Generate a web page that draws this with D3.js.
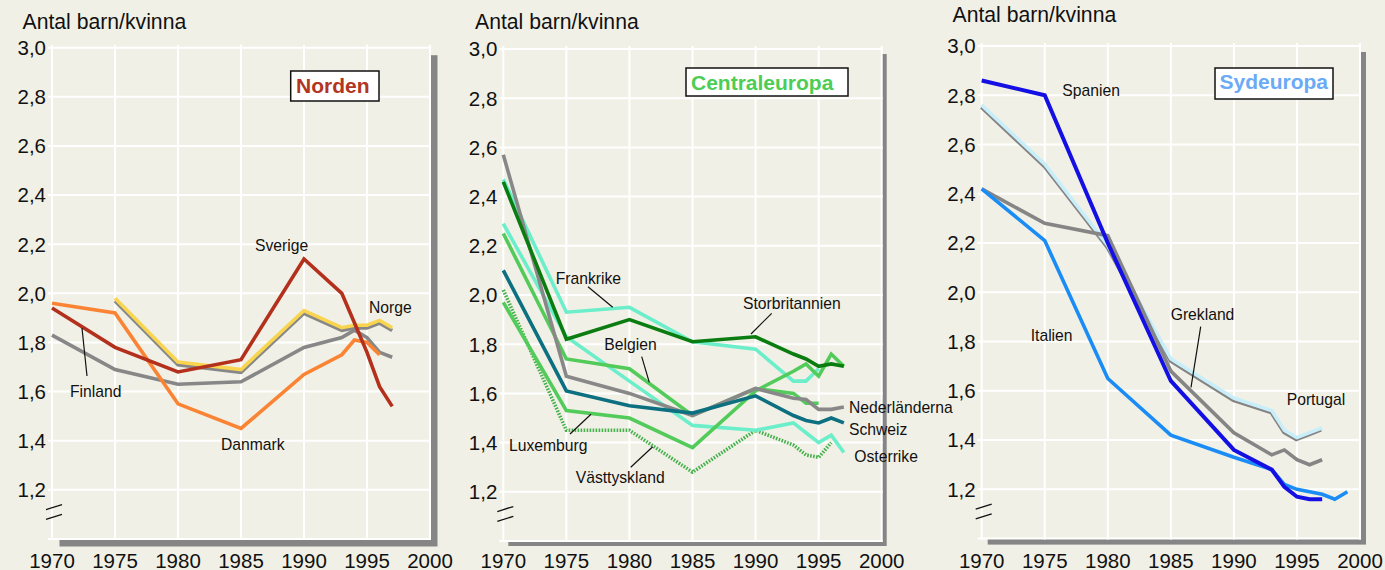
<!DOCTYPE html>
<html>
<head>
<meta charset="utf-8">
<script src="https://cdn.jsdelivr.net/npm/d3@7/dist/d3.min.js"></script>
<style>
  body { margin: 0; background: #f1f0e6; }
  svg { display: block; font-family: "Liberation Sans", Arial, Helvetica, sans-serif; }
</style>
</head>
<body>
<div id="chart"></div>
<script>
// --- data (total fertility rate, children per woman) ---
const xTicks = [1970, 1975, 1980, 1985, 1990, 1995, 2000];
const yTicks = [1.2, 1.4, 1.6, 1.8, 2.0, 2.2, 2.4, 2.6, 2.8, 3.0];
const yAxisTitle = "Antal barn/kvinna";
const regions = ["Norden", "Centraleuropa", "Sydeuropa"];

const years = [1970, 1975, 1980, 1985, 1990, 1993, 1994, 1995, 1996, 1997];
const yearsTo1996 = [1970, 1975, 1980, 1985, 1990, 1993, 1994, 1995, 1996];
const yearsTo1995 = [1970, 1975, 1980, 1985, 1990, 1993, 1994, 1995];
const yearsFrom1975 = [1975, 1980, 1985, 1990, 1993, 1994, 1995, 1996, 1997];
const yearsTo1999 = [1970, 1975, 1980, 1985, 1990, 1993, 1994, 1995, 1996, 1997, 1998, 1999];

// Norden
const finland = [1.83, 1.69, 1.63, 1.64, 1.78, 1.82, 1.85, 1.82, 1.76, 1.74];
const norge = [1.98, 1.72, 1.69, 1.93, 1.86, 1.87, 1.87, 1.89, 1.86];
const danmark = [1.96, 1.92, 1.55, 1.45, 1.67, 1.75, 1.81, 1.80, 1.75];
const sverige = [1.94, 1.78, 1.68, 1.73, 2.14, 2.00, 1.88, 1.76, 1.62, 1.54];

// Centraleuropa
const vasttyskland = [2.02, 1.45, 1.45, 1.28, 1.45, 1.39, 1.35, 1.34, 1.40];
const osterrike = [2.29, 1.83, 1.65, 1.47, 1.45, 1.48, 1.44, 1.40, 1.43, 1.36];
const frankrike = [2.47, 1.93, 1.95, 1.81, 1.78, 1.65, 1.65, 1.70];
const luxemburg = [1.97, 1.53, 1.50, 1.38, 1.61, 1.69, 1.72, 1.67, 1.76, 1.71];
const belgien = [2.25, 1.74, 1.70, 1.51, 1.62, 1.60, 1.56, 1.56];
const nederlanderna = [2.57, 1.67, 1.60, 1.51, 1.62, 1.58, 1.575, 1.535, 1.535, 1.545];
const schweiz = [2.10, 1.61, 1.55, 1.52, 1.59, 1.51, 1.49, 1.48, 1.50, 1.48];
const storbritannien = [2.46, 1.82, 1.90, 1.81, 1.83, 1.76, 1.74, 1.71, 1.72, 1.71];

// Sydeuropa
const portugal = [2.76, 2.52, 2.19, 1.73, 1.57, 1.52, 1.44, 1.41, 1.43, 1.45];
const grekland = [2.42, 2.28, 2.23, 1.68, 1.43, 1.34, 1.36, 1.32, 1.30, 1.32];
const italien = [2.42, 2.21, 1.65, 1.42, 1.33, 1.28, 1.22, 1.20, 1.19, 1.18, 1.16, 1.19];
const spanien = [2.86, 2.80, 2.20, 1.64, 1.36, 1.28, 1.21, 1.17, 1.16, 1.16];

// --- layout and styles ---
const W = 1385, H = 570;
const bg = "#f1f0e6";
const shadowCol = "#858585";

const panels = [
  {
    x0: 52, x1: 430, yt: 47.7, yb: 539, shadow: 7.5, titleX: 22.5, titleY: 29.3,
    box: {x: 290.7, y: 71, w: 88.3, h: 30, tx: 296, ty: 92.5, color: "#b3351f"},
    series: [
      {years: years, values: finland, color: "#878787"},
      {years: yearsFrom1975, values: norge, color: "#878787", width: 3.5, dy: 2.8},
      {years: yearsFrom1975, values: norge, color: "#f8d44f"},
      {years: yearsTo1996, values: danmark, color: "#fb8434"},
      {years: years, values: sverige, color: "#b3311c"}
    ],
    labels: [
      {t: "Sverige", x: 255, y: 250.7},
      {t: "Norge", x: 369, y: 312.7},
      {t: "Finland", x: 70, y: 396.7},
      {t: "Danmark", x: 221, y: 450}
    ],
    pointers: [[82, 328, 87, 376]]
  },
  {
    x0: 503.3, x1: 881.7, yt: 49, yb: 541, shadow: 5, titleX: 475, titleY: 29.3,
    box: {x: 686, y: 68, w: 162, h: 28, tx: 691, ty: 89.5, color: "#4ccd55"},
    series: [
      {years: yearsTo1996, values: vasttyskland, color: "#46b04c", dash: "1.6,1.4"},
      {years: years, values: osterrike, color: "#6beec9"},
      {years: yearsTo1995, values: frankrike, color: "#6beec9"},
      {years: years, values: luxemburg, color: "#52cb5a"},
      {years: yearsTo1995, values: belgien, color: "#52cb5a"},
      {years: years, values: nederlanderna, color: "#888888"},
      {years: years, values: schweiz, color: "#0d7080"},
      {years: years, values: storbritannien, color: "#0b7c10"}
    ],
    labels: [
      {t: "Frankrike", x: 555.7, y: 284},
      {t: "Storbritannien", x: 743, y: 309.3},
      {t: "Belgien", x: 604.3, y: 350},
      {t: "Luxemburg", x: 509, y: 451},
      {t: "Västtyskland", x: 575.7, y: 483.3},
      {t: "Nederländerna", x: 849, y: 413.3},
      {t: "Schweiz", x: 849, y: 435},
      {t: "Osterrike", x: 854.3, y: 461.7}
    ],
    pointers: [
      [588, 286.7, 612.7, 307.3],
      [771.7, 313.3, 751, 334],
      [641.7, 356.7, 649.3, 382.3],
      [570, 434, 591, 414.3],
      [630.7, 467.3, 652.7, 446.7]
    ]
  },
  {
    x0: 981.7, x1: 1360, yt: 46, yb: 538.6, shadow: 6, titleX: 952.5, titleY: 21.7,
    box: {x: 1215, y: 68, w: 118, h: 31, tx: 1219.5, ty: 89, color: "#6aaaf6"},
    series: [
      {years: years, values: portugal, color: "#858585", width: 2.4, dx: -0.8, dy: 2.6},
      {years: years, values: portugal, color: "#c8eefa"},
      {years: years, values: grekland, color: "#858585"},
      {years: yearsTo1999, values: italien, color: "#1a8cf5"},
      {years: years, values: spanien, color: "#1410e4", width: 4}
    ],
    labels: [
      {t: "Spanien", x: 1062.3, y: 96},
      {t: "Italien", x: 1030.7, y: 341},
      {t: "Grekland", x: 1170.7, y: 320},
      {t: "Portugal", x: 1286.7, y: 405}
    ],
    pointers: [[1200.7, 326.7, 1191, 387.3]]
  }
];

const fmt = d3.formatLocale({decimal: ",", thousands: " ", grouping: [3], currency: ["", " kr"]}).format(".1f");

const svg = d3.select("#chart").append("svg")
  .attr("width", W)
  .attr("height", H);

svg.append("rect").attr("width", W).attr("height", H).attr("fill", bg);

panels.forEach((p, i) => {
  const g = svg.append("g");
  const x = d3.scaleLinear().domain([1970, 2000]).range([p.x0, p.x1]);
  const y = d3.scaleLinear().domain([1.0, 3.0]).range([p.yb, p.yt]);

  // drop shadow behind plot area
  g.append("rect")
    .attr("x", p.x0 + p.shadow).attr("y", p.yt + p.shadow)
    .attr("width", p.x1 - p.x0).attr("height", p.yb - p.yt)
    .attr("fill", shadowCol);
  g.append("rect")
    .attr("x", p.x0).attr("y", p.yt)
    .attr("width", p.x1 - p.x0).attr("height", p.yb - p.yt)
    .attr("fill", bg);

  // white grid
  const grid = g.append("g").attr("stroke", "#ffffff").attr("stroke-width", 2);
  grid.selectAll(".hl").data([1.0].concat(yTicks)).enter().append("line")
    .attr("x1", p.x0 - 4).attr("x2", p.x1 + 1)
    .attr("y1", d => y(d)).attr("y2", d => y(d));
  grid.selectAll(".vl").data(xTicks).enter().append("line")
    .attr("x1", d => x(d)).attr("x2", d => x(d))
    .attr("y1", p.yt - 3).attr("y2", p.yb + 1);

  // y labels
  g.selectAll(".ylab").data(yTicks).enter().append("text")
    .attr("x", p.x0 - 6)
    .attr("y", d => y(d))
    .attr("dy", "0.36em")
    .attr("text-anchor", "end")
    .attr("font-size", 20.5)
    .attr("fill", "#111")
    .text(d => fmt(d));

  // x labels
  g.selectAll(".xlab").data(xTicks).enter().append("text")
    .attr("x", d => x(d))
    .attr("y", 567.5)
    .attr("text-anchor", "middle")
    .attr("font-size", 20.5)
    .attr("fill", "#111")
    .text(d => d);

  // axis title
  g.append("text")
    .attr("x", p.titleX).attr("y", p.titleY)
    .attr("font-size", 21.2)
    .attr("fill", "#111")
    .text(yAxisTitle);

  // axis break mark
  [1.13, 1.09].forEach(v => {
    g.append("line")
      .attr("x1", p.x0 - 6).attr("y1", y(v) + 2.5)
      .attr("x2", p.x0 + 10).attr("y2", y(v) - 2.5)
      .attr("stroke", "#111").attr("stroke-width", 1.3);
  });

  // series lines
  const line = d3.line()
    .x(d => x(d[0]))
    .y(d => y(d[1]));
  p.series.forEach(s => {
    const pts = s.years.map((yr, k) => [yr, s.values[k]]);
    g.append("path")
      .datum(pts)
      .attr("d", line)
      .attr("transform", `translate(${s.dx || 0},${s.dy || 0})`)
      .attr("fill", "none")
      .attr("stroke", s.color)
      .attr("stroke-width", s.width || 3.6)
      .attr("stroke-dasharray", s.dash || null)
      .attr("stroke-linejoin", "miter");
  });

  // pointer lines
  p.pointers.forEach(l => {
    g.append("line")
      .attr("x1", l[0]).attr("y1", l[1]).attr("x2", l[2]).attr("y2", l[3])
      .attr("stroke", "#111").attr("stroke-width", 1.2);
  });

  // country labels
  g.selectAll(".clab").data(p.labels).enter().append("text")
    .attr("x", d => d.x).attr("y", d => d.y)
    .attr("font-size", 15.7)
    .attr("fill", "#111")
    .text(d => d.t);

  // region box
  g.append("rect")
    .attr("x", p.box.x).attr("y", p.box.y)
    .attr("width", p.box.w).attr("height", p.box.h)
    .attr("fill", "#ffffff")
    .attr("stroke", "#111").attr("stroke-width", 1.5);
  g.append("text")
    .attr("x", p.box.tx).attr("y", p.box.ty)
    .attr("font-size", 21)
    .attr("font-weight", "bold")
    .attr("fill", p.box.color)
    .text(regions[i]);
});
</script>
</body>
</html>
